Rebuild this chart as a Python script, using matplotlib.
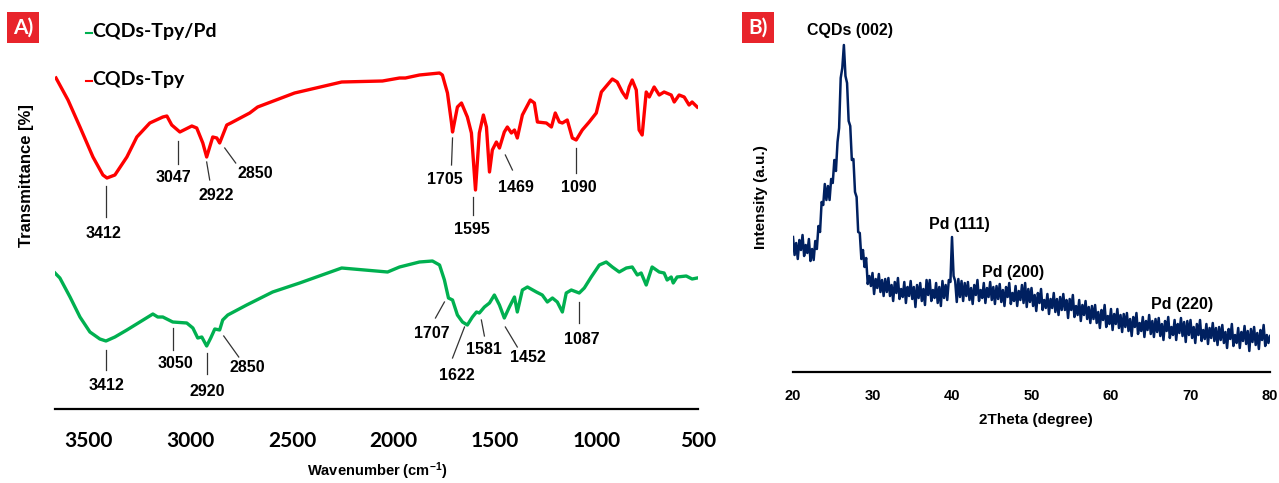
import matplotlib
matplotlib.use("Agg")
import matplotlib.pyplot as plt
from matplotlib.patches import Rectangle
from matplotlib.lines import Line2D
import numpy as np

plt.rcParams['mathtext.fontset'] = 'custom'
plt.rcParams['mathtext.rm'] = 'Liberation Sans:bold'
plt.rcParams['mathtext.it'] = 'Liberation Sans:bold'

# ---------------- FTIR data (wavenumber, transmittance a.u.) ----------------
wn_tpy = [3662, 3603, 3544, 3480, 3431, 3411, 3372, 3313, 3264, 3200, 3136, 3116,
          3092, 3052, 2993, 2969, 2939, 2920, 2890, 2870, 2856, 2821, 2801, 2708,
          2669, 2487, 2255, 2054, 1970, 1941, 1872, 1773, 1759, 1734, 1714, 1709,
          1685, 1665, 1636, 1616, 1596, 1577, 1557, 1542, 1527, 1513, 1493, 1478,
          1454, 1439, 1419, 1404, 1390, 1365, 1326, 1306, 1291, 1247, 1222, 1203,
          1183, 1168, 1144, 1119, 1100, 1070, 1036, 1001, 976, 947, 922, 898,
          873, 853, 839, 824, 804, 790, 775, 755, 740, 716, 691, 667,
          632, 617, 593, 568, 544, 529, 504]
t_tpy = [331, 309, 282, 252, 234, 231, 234, 252, 272, 286, 292, 293,
         284, 277, 283, 281, 266, 252, 272, 271, 266, 284, 286, 296,
         302, 316, 327, 328, 331, 331, 334, 336, 334, 316, 286, 277,
         302, 306, 292, 276, 219, 276, 294, 282, 237, 259, 267, 261,
         277, 282, 276, 279, 271, 294, 309, 306, 287, 286, 282, 296,
         287, 286, 289, 271, 269, 279, 287, 296, 317, 324, 330, 327,
         317, 311, 322, 329, 319, 279, 274, 317, 312, 322, 314, 317,
         314, 307, 314, 312, 304, 307, 302]

wn_pd = [3667, 3643, 3593, 3544, 3495, 3446, 3416, 3372, 3313, 3249, 3185, 3161,
         3136, 3087, 3018, 2988, 2964, 2944, 2920, 2900, 2880, 2856, 2841, 2816,
         2723, 2595, 2462, 2255, 2029, 1970, 1872, 1808, 1773, 1749, 1729, 1709,
         1685, 1660, 1636, 1611, 1591, 1577, 1552, 1527, 1503, 1478, 1454, 1429,
         1404, 1390, 1365, 1340, 1296, 1267, 1242, 1217, 1193, 1168, 1149, 1124,
         1085, 1060, 1026, 986, 952, 922, 888, 853, 824, 799, 780, 755,
         726, 691, 667, 652, 632, 622, 603, 558, 529, 504]
t_pd = [136, 131, 112, 92, 77, 70, 68, 72, 79, 87, 95, 92,
        92, 87, 86, 81, 71, 72, 63, 71, 80, 79, 89, 94,
        104, 117, 126, 141, 137, 142, 147, 148, 144, 129, 111, 109,
        94, 87, 84, 92, 97, 96, 102, 106, 114, 104, 91, 102,
        112, 97, 119, 122, 117, 114, 107, 111, 107, 97, 116, 119,
        116, 121, 132, 144, 147, 142, 137, 141, 142, 134, 136, 124,
        142, 137, 136, 129, 132, 126, 132, 133, 130, 131]

# peak labels: text, line top (wn, T), line bottom (wn, T), label (wn, T)
peaks_tpy = [("3412", 3416, 223, 3416, 192, 3426, 176),
             ("3047", 3062, 268, 3062, 245, 3082, 231),
             ("2922", 2920, 247, 2905, 229, 2875, 214),
             ("2850", 2831, 261, 2777, 246, 2680, 236),
             ("1705", 1709, 271, 1714, 244, 1749, 229),
             ("1595", 1606, 212, 1606, 194, 1611, 179),
             ("1469", 1449, 254, 1414, 239, 1395, 222),
             ("1090", 1100, 261, 1100, 236, 1085, 222)]
peaks_pd = [("3412", 3416, 59, 3416, 39, 3411, 24),
            ("3050", 3087, 81, 3087, 59, 3072, 45),
            ("2920", 2920, 56, 2920, 35, 2915, 17),
            ("2850", 2836, 73, 2762, 52, 2718, 41),
            ("1707", 1749, 107, 1793, 91, 1813, 76),
            ("1622", 1650, 82, 1709, 51, 1690, 33),
            ("1581", 1567, 89, 1552, 73, 1552, 60),
            ("1452", 1449, 82, 1390, 62, 1336, 51),
            ("1087", 1085, 107, 1085, 86, 1070, 69)]

ftir_ticks = [3500, 3000, 2500, 2000, 1500, 1000, 500]

# ---------------- XRD data (0.2 deg step) ----------------
two_theta = np.arange(20.0, 80.01, 0.2)
intensity = [135, 117, 129, 113, 132, 122, 137, 116, 127, 119,
             133, 111, 123, 112, 131, 123, 146, 140, 170, 167,
             188, 172, 186, 172, 193, 189, 212, 201, 230, 244,
             294, 304, 327, 296, 289, 251, 246, 212, 213, 180,
             175, 140, 139, 113, 122, 105, 114, 88, 96, 86,
             99, 78, 93, 84, 98, 80, 92, 76, 93, 80,
             94, 76, 87, 71, 90, 79, 94, 73, 83, 75,
             90, 69, 85, 76, 91, 73, 85, 65, 87, 74,
             89, 71, 83, 67, 92, 77, 92, 71, 82, 74,
             89, 69, 85, 66, 91, 74, 87, 72, 92, 90,
             135, 96, 91, 70, 93, 75, 91, 71, 89, 76,
             90, 72, 84, 68, 87, 77, 92, 71, 82, 74,
             89, 69, 84, 75, 90, 72, 85, 68, 86, 73,
             88, 70, 82, 66, 85, 75, 89, 68, 79, 71,
             86, 66, 81, 72, 87, 69, 89, 65, 83, 70,
             84, 66, 77, 61, 79, 69, 83, 62, 72, 64,
             78, 58, 73, 64, 79, 60, 73, 57, 75, 62,
             78, 62, 72, 54, 73, 62, 77, 55, 66, 57,
             72, 51, 67, 57, 71, 53, 65, 49, 66, 53,
             67, 49, 60, 44, 62, 52, 67, 45, 56, 48,
             63, 42, 58, 48, 63, 44, 57, 40, 58, 45,
             59, 41, 53, 36, 55, 45, 59, 38, 49, 41,
             55, 35, 51, 42, 57, 38, 51, 35, 53, 40,
             54, 36, 48, 32, 51, 41, 55, 34, 45, 37,
             52, 32, 48, 39, 54, 36, 50, 30, 51, 37,
             52, 34, 45, 29, 48, 37, 52, 31, 42, 33,
             48, 28, 44, 34, 49, 31, 44, 27, 45, 32,
             47, 29, 40, 24, 43, 33, 48, 26, 37, 29,
             44, 24, 40, 31, 46, 28, 41, 21, 43, 30,
             45, 27, 39, 23, 42, 32, 47, 26, 37, 29,
             36]
xrd_labels = [("CQDs (002)", 27.2, 341), ("Pd (111)", 40.9, 147),
              ("Pd (200)", 47.7, 99), ("Pd (220)", 69.0, 67)]
xrd_ticks = [20, 30, 40, 50, 60, 70, 80]

W, H = 1279, 483
fig = plt.figure(figsize=(W / 100, H / 100), dpi=100)


def fx(px):
    return px / W


def fy(py):
    return 1 - py / H


# ---------------- panel A ----------------
ax1 = fig.add_axes([fx(55), fy(409), (698 - 55) / W, 409 / H])
ax1.plot(wn_tpy, t_tpy, color='#ff0000', lw=2.4)
ax1.plot(wn_pd, t_pd, color='#00b050', lw=2.4)
for lab, x0, y0, x1, y1, xt, yt in peaks_tpy + peaks_pd:
    ax1.plot([x0, x1], [y0, y1], color='#333333', lw=0.9)
    ax1.text(xt, yt, lab, ha='center', va='center', fontsize=11.5,
             fontweight='bold', family='Liberation Sans')
ax1.set_xlim(3667, 500)
ax1.set_ylim(0, 409)
ax1.set_xticks(ftir_ticks)
ax1.set_xticklabels([str(t) for t in ftir_ticks], fontsize=15,
                    fontweight='bold', family='Lato')
ax1.tick_params(axis='x', length=0, pad=16)
ax1.set_yticks([])
for s in ['top', 'left', 'right']:
    ax1.spines[s].set_visible(False)
ax1.spines['bottom'].set_linewidth(1.6)

fig.text(fx(377), fy(471), 'Wavenumber (cm$^{-1}$)', ha='center', va='center',
         fontsize=10.5, fontweight='bold', family='Liberation Sans')
fig.text(fx(27), fy(176), 'Transmittance [%]', ha='center', va='center',
         rotation=90, fontsize=12, fontweight='bold', family='Liberation Sans')

# legend
fig.add_artist(Line2D([fx(86), fx(92)], [fy(33), fy(33)], color='#00b050', lw=1.5))
fig.text(fx(92), fy(32), 'CQDs-Tpy/Pd', ha='left', va='center', fontsize=14,
         fontweight='bold', family='Lato')
fig.add_artist(Line2D([fx(86), fx(92)], [fy(81), fy(81)], color='#ff0000', lw=1.5))
fig.text(fx(92), fy(80), 'CQDs-Tpy', ha='left', va='center', fontsize=14,
         fontweight='bold', family='Lato')

# ---------------- panel B ----------------
ax2 = fig.add_axes([fx(793), fy(372), (1270 - 793) / W, 372 / H])
ax2.plot(two_theta, intensity, color='#002060', lw=1.8)
for lab, x, y in xrd_labels:
    ax2.text(x, y, lab, ha='center', va='center', fontsize=11.5,
             fontweight='bold', family='Liberation Sans')
ax2.set_xlim(20, 80)
ax2.set_ylim(0, 372)
ax2.set_xticks(xrd_ticks)
ax2.set_xticklabels([str(t) for t in xrd_ticks], fontsize=10.5,
                    fontweight='bold', family='Liberation Sans')
ax2.tick_params(axis='x', length=0, pad=12)
ax2.set_yticks([])
for s in ['top', 'left', 'right']:
    ax2.spines[s].set_visible(False)
ax2.spines['bottom'].set_linewidth(1.6)

fig.text(fx(1036), fy(420), '2Theta (degree)', ha='center', va='center',
         fontsize=11, fontweight='bold', family='Liberation Sans')
fig.text(fx(761), fy(197), 'Intensity (a.u.)', ha='center', va='center',
         rotation=90, fontsize=11, fontweight='bold', family='Liberation Sans')

# panel tags
for tag, x0, y0 in [('A)', 7, 12), ('B)', 742, 12)]:
    fig.add_artist(Rectangle((fx(x0), fy(y0 + 31)), 32 / W, 31 / H,
                             transform=fig.transFigure, facecolor='#e8242b',
                             edgecolor='none'))
    fig.text(fx(x0 + 16), fy(y0 + 15.5), tag, ha='center', va='center',
             color='white', fontsize=15, fontweight='bold', family='Lato')

fig.savefig('out.png', dpi=100)
